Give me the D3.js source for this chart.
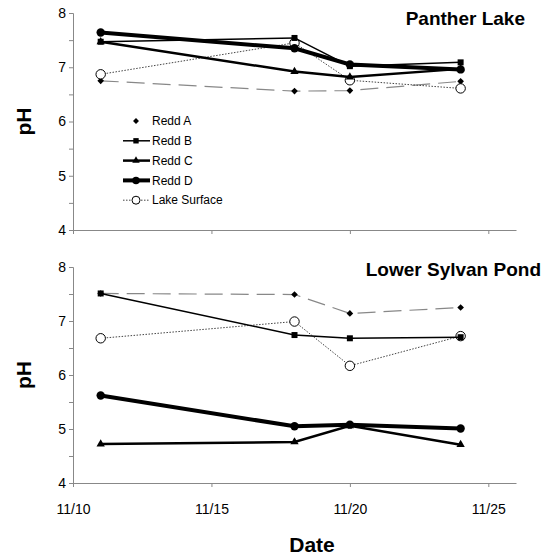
<!DOCTYPE html>
<html><head><meta charset="utf-8">
<script src="https://cdn.jsdelivr.net/npm/d3@7"></script>
<style>body{margin:0;background:#fff}svg{display:block;font-family:"Liberation Sans",Arial,sans-serif}</style>
</head><body><svg id="c" width="552" height="556"></svg>
<script>
const dates = ["2000-11-11","2000-11-18","2000-11-20","2000-11-24"];
const xTicks = ["2000-11-10","2000-11-15","2000-11-20","2000-11-25"];
const yTicks = [4,5,6,7,8];
const seriesNames = ["Redd A","Redd B","Redd C","Redd D","Lake Surface"];
// Panther Lake
const pantherA = [6.75, 6.56, 6.57, 6.74];
const pantherB = [7.47, 7.54, 7.02, 7.09];
const pantherC = [7.47, 6.92, 6.82, 6.97];
const pantherD = [7.64, 7.35, 7.05, 6.96];
const pantherLake = [6.87, 7.45, 6.76, 6.61];
// Lower Sylvan Pond
const sylvanA = [7.51, 7.49, 7.14, 7.25];
const sylvanB = [7.51, 6.74, 6.68, 6.70];
const sylvanC = [4.72, 4.76, 5.06, 4.71];
const sylvanD = [5.62, 5.05, 5.08, 5.01];
const sylvanLake = [6.68, 6.99, 6.17, 6.72];

const parse = d3.timeParse("%Y-%m-%d");
const svg = d3.select("#c");
const x = d3.scaleTime().domain([parse("2000-11-10"), parse("2000-11-26")]).range([73, 516]);

const styles = {
  "Redd A": {w:1.2, color:"#888", dash:"18,8", marker:"diamond", size:22, fill:"#000"},
  "Redd B": {w:1.5, color:"#000", dash:null, marker:"square", size:36, fill:"#000"},
  "Redd C": {w:2.5, color:"#000", dash:null, marker:"triangle", size:30, fill:"#000"},
  "Redd D": {w:4, color:"#000", dash:null, marker:"circle", size:55, fill:"#000"},
  "Lake Surface": {w:1, color:"#444", dash:"1.5,1.5", marker:"circle", size:70, fill:"#fff"}
};
const symTypes = {diamond:d3.symbolSquare, square:d3.symbolSquare, triangle:d3.symbolTriangle, circle:d3.symbolCircle};
const rot = m => m === "diamond" ? " rotate(45)" : "";

function panel(top, bottom, title, titleX, titleY, data, showXLabels, legend) {
  const y = d3.scaleLinear().domain([4,8]).range([bottom, top]);
  const g = svg.append("g");
  const ya = d3.axisLeft(y).tickValues(d3.range(4, 8.01, 0.5)).tickSize(4).tickFormat(d => Number.isInteger(d) ? d : "");
  const yg = g.append("g").attr("transform", `translate(${x.range()[0]},0)`).call(ya);
  yg.select(".domain").attr("stroke","#888");
  yg.selectAll(".tick line").attr("stroke","#888");
  yg.selectAll("text").attr("font-size",14).attr("fill","#000");
  const xa = d3.axisBottom(x).tickValues(xTicks.map(parse)).tickSize(4).tickSizeOuter(0).tickFormat(showXLabels ? d3.timeFormat("%m/%d") : "");
  const xg = g.append("g").attr("transform", `translate(0,${bottom})`).call(xa);
  xg.select(".domain").attr("stroke","#888");
  xg.selectAll(".tick line").attr("stroke","#888");
  xg.selectAll("text").attr("font-size",14).attr("fill","#000").attr("y",31).attr("dy",0);
  g.append("text").attr("x",titleX).attr("y",titleY).attr("text-anchor","end").attr("font-size",19).attr("font-weight","bold").text(title);
  g.append("text").attr("transform",`translate(31,${(top+bottom)/2}) rotate(-90)`).attr("text-anchor","middle").attr("font-size",21).attr("font-weight","bold").text("pH");
  const line = d3.line().x((d,i)=>x(parse(dates[i]))).y(d=>y(d));
  data.forEach(([name, vals]) => {
    const s = styles[name];
    g.append("path").datum(vals).attr("d", line).attr("fill","none").attr("stroke", s.color).attr("stroke-width", s.w).attr("stroke-dasharray", s.dash);
    g.selectAll(null).data(vals).enter().append("path")
      .attr("transform",(d,i)=>`translate(${x(parse(dates[i]))},${y(d)})` + rot(s.marker))
      .attr("d", d3.symbol().type(symTypes[s.marker]).size(s.size))
      .attr("fill", s.fill).attr("stroke", s.fill === "#fff" ? "#000" : "none").attr("stroke-width",1);
  });
  if (legend) {
    const lg = g.append("g");
    seriesNames.forEach((name, i) => {
      const s = styles[name];
      const ly = 121 + i * 19.8;
      if (name !== "Redd A") {
        lg.append("line").attr("x1",123).attr("x2",150).attr("y1",ly).attr("y2",ly).attr("stroke", name==="Lake Surface"?"#444":"#000").attr("stroke-width", s.w).attr("stroke-dasharray", s.dash);
      }
      lg.append("path").attr("transform",`translate(136,${ly})` + rot(s.marker)).attr("d", d3.symbol().type(symTypes[s.marker]).size(name==="Lake Surface"?50:s.size*0.8))
        .attr("fill", s.fill).attr("stroke", s.fill === "#fff" ? "#000" : "none");
      lg.append("text").attr("x",152).attr("y",ly).attr("dy","0.35em").attr("font-size",12).text(name);
    });
  }
}

panel(13, 230, "Panther Lake", 525, 25,
  [["Redd A",pantherA],["Lake Surface",pantherLake],["Redd B",pantherB],["Redd C",pantherC],["Redd D",pantherD]], false, true);
panel(267, 483, "Lower Sylvan Pond", 541, 276,
  [["Redd A",sylvanA],["Lake Surface",sylvanLake],["Redd B",sylvanB],["Redd C",sylvanC],["Redd D",sylvanD]], true, false);

svg.append("text").attr("x",312).attr("y",552).attr("text-anchor","middle").attr("font-size",21).attr("font-weight","bold").text("Date");
</script></body></html>
